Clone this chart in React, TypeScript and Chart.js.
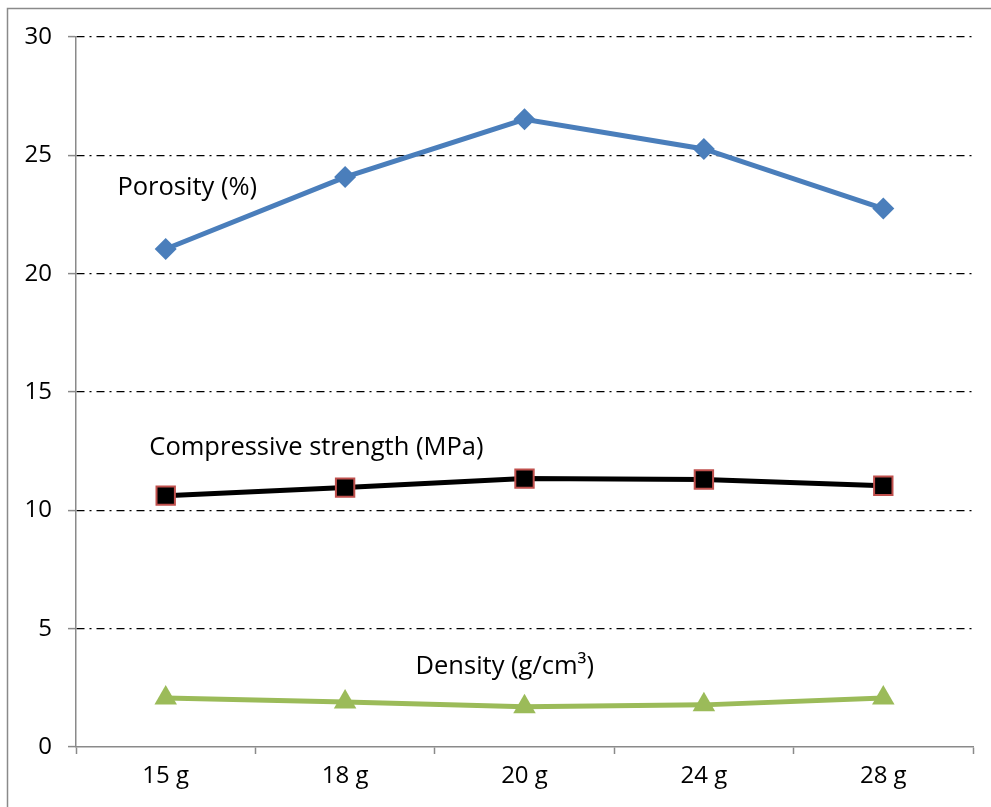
import React, { useEffect, useRef } from "react";
import { Chart, registerables } from "chart.js";

Chart.register(...registerables);

const categories = ["15 g", "18 g", "20 g", "24 g", "28 g"];
const porosity = [21.04, 24.08, 26.52, 25.27, 22.75];
const compressive = [10.62, 10.96, 11.34, 11.3, 11.04];
const density = [2.07, 1.9, 1.7, 1.78, 2.07];
const yTicks = [0, 5, 10, 15, 20, 25, 30];

// label text, anchored in data coordinates (category index, value)
const seriesLabels = [
  { text: "Porosity (%)", x: 0.12, y: 23.65 },
  { text: "Compressive strength (MPa)", x: 0.84, y: 12.65 },
  { text: "Density (g/cm³)", x: 1.89, y: 3.4 },
];

const FONT = "'Open Sans', 'Noto Sans', sans-serif";

const framePlugin = {
  id: "frame",
  beforeDraw(chart: any) {
    const ctx = chart.ctx;
    ctx.save();
    ctx.fillStyle = "#ffffff";
    ctx.fillRect(0, 0, chart.width, chart.height);
    ctx.strokeStyle = "#8a8a8a";
    ctx.lineWidth = 1.5;
    ctx.strokeRect(7.5, 8.5, 1100, 1100);
    ctx.restore();
  },
};

const labelPlugin = {
  id: "seriesLabels",
  afterDraw(chart: any) {
    const ctx = chart.ctx;
    const xs = chart.scales.x;
    const ys = chart.scales.y;
    ctx.save();
    ctx.fillStyle = "#000";
    ctx.font = `25.5px ${FONT}`;
    ctx.textAlign = "center";
    ctx.textBaseline = "middle";
    for (const l of seriesLabels) {
      ctx.fillText(l.text, xs.getPixelForValue(l.x), ys.getPixelForValue(l.y));
    }
    ctx.restore();
  },
};

export default function App() {
  const ref = useRef<HTMLCanvasElement | null>(null);
  useEffect(() => {
    if (!ref.current) return;
    const chart = new Chart(ref.current, {
      type: "line",
      data: {
        labels: categories,
        datasets: [
          {
            label: "Porosity (%)",
            data: porosity,
            borderColor: "#4a7ebb",
            backgroundColor: "#4a7ebb",
            borderWidth: 5,
            pointStyle: "rectRot",
            pointRadius: 11,
            pointBorderWidth: 0,
            pointBackgroundColor: "#4a7ebb",
            tension: 0,
          },
          {
            label: "Compressive strength (MPa)",
            data: compressive,
            borderColor: "#000000",
            backgroundColor: "#000000",
            borderWidth: 5,
            pointStyle: "rect",
            pointRadius: 13,
            pointBorderWidth: 2,
            pointBorderColor: "#c0504d",
            pointBackgroundColor: "#000000",
            tension: 0,
          },
          {
            label: "Density (g/cm³)",
            data: density,
            borderColor: "#9bbb59",
            backgroundColor: "#9bbb59",
            borderWidth: 5,
            pointStyle: "triangle",
            pointRadius: 13,
            pointBorderWidth: 0,
            pointBackgroundColor: "#9bbb59",
            tension: 0,
          },
        ],
      },
      options: {
        responsive: false,
        animation: false,
        layout: { padding: { left: 0, top: 37, right: 18, bottom: 0 } },
        plugins: { legend: { display: false }, tooltip: { enabled: false } },
        scales: {
          x: {
            offset: true,
            afterFit: (s: any) => {
              s.height = 60;
            },
            grid: {
              offset: true,
              drawOnChartArea: false,
              drawTicks: true,
              tickLength: 7,
              tickColor: "#8a8a8a",
              tickWidth: 1.5,
            },
            border: { color: "#8a8a8a", width: 1.5 },
            ticks: {
              color: "#000",
              font: { family: FONT, size: 24 },
              padding: 8,
            },
          },
          y: {
            min: 0,
            max: 30,
            afterFit: (s: any) => {
              s.width = 76;
            },
            afterBuildTicks: (s: any) => {
              s.ticks = yTicks.map((v) => ({ value: v }));
            },
            grid: {
              color: (c: any) => (c.tick && c.tick.value === 0 ? "rgba(0,0,0,0)" : "#000"),
              lineWidth: 1.2,
              drawTicks: true,
              tickLength: 8,
              tickColor: "#8a8a8a",
              tickWidth: 1.5,
            },
            border: { color: "#8a8a8a", width: 1.5, dash: [8, 5, 2, 5] },
            ticks: {
              color: "#000",
              font: { family: FONT, size: 24 },
              padding: 16,
            },
          },
        },
      },
      plugins: [framePlugin, labelPlugin],
    });
    return () => chart.destroy();
  }, []);
  return (
    <div style={{ position: "fixed", left: 0, top: 0, width: 991, height: 807 }}>
      <canvas ref={ref} width={991} height={807} style={{ display: "block" }} />
    </div>
  );
}
